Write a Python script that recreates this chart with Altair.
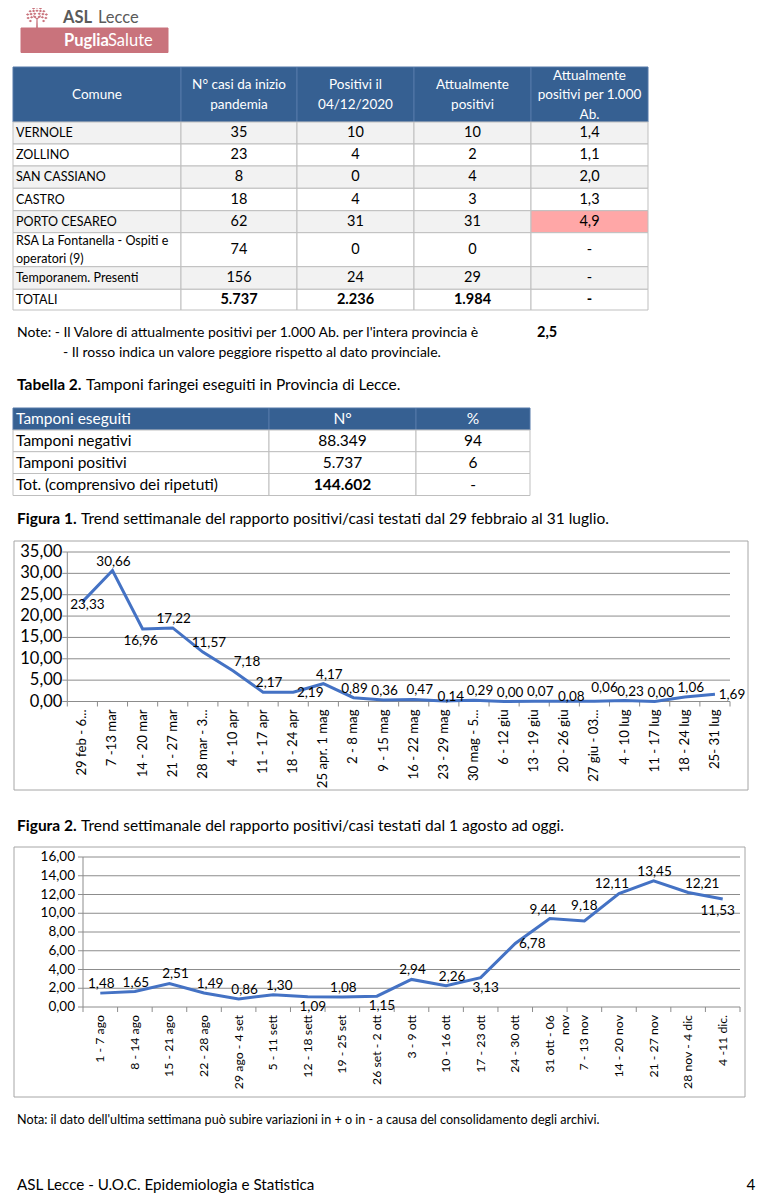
import altair as alt
import pandas as pd

OFF = 8
W, H = 757, 1190
FONT = "Lato"
BLUE_HDR = "#366092"
HDR_LINE = "#5478A8"
CELL_LINE = "#BFBFBF"
ROW_ALT = "#F2F2F2"
RED_CELL = "#FFA7A7"
LINE_BLUE = "#4472C4"
GRID = "#8C8C8C"
FRAME = "#A6A6A6"
PINK = "#C9737C"


def px(v):
    return v - OFF


def it_int(n):
    return f"{n:,}".replace(",", ".")


def it_dec(v, d):
    return f"{v:.{d}f}".replace(".", ",")


# ---------------- data ----------------
header_t1 = ["Comune", "N° casi da inizio\npandemia", "Positivi il\n04/12/2020",
             "Attualmente\npositivi", "Attualmente\npositivi per 1.000\nAb."]
comuni = ["VERNOLE", "ZOLLINO", "SAN CASSIANO", "CASTRO", "PORTO CESAREO",
          "RSA La Fontanella - Ospiti e\noperatori (9)", "Temporanem. Presenti"]
casi_inizio = [35, 23, 8, 18, 62, 74, 156]
positivi_il = [10, 4, 0, 4, 31, 0, 24]
attualmente_pos = [10, 2, 4, 3, 31, 0, 29]
per_1000 = [1.4, 1.1, 2.0, 1.3, 4.9, None, None]
tot_casi = 5737
tot_positivi_il = 2236
tot_attualmente = 1984
valore_provincia = 2.5

header_t2 = ["Tamponi eseguiti", "N°", "%"]
tamponi_cat = ["Tamponi negativi", "Tamponi positivi", "Tot. (comprensivo dei ripetuti)"]
tamponi_n = [88349, 5737, 144602]
tamponi_pct = [94, 6, None]

fig1_weeks = ["29 feb - 6...", "7 -13 mar", "14 - 20 mar", "21 - 27 mar", "28 mar - 3...",
              "4 - 10 apr", "11 - 17 apr", "18 - 24 apr", "25 apr. 1 mag", "2 - 8 mag",
              "9 - 15 mag", "16 - 22 mag", "23 - 29 mag", "30 mag - 5...", "6 - 12 giu",
              "13 - 19 giu", "20 - 26 giu", "27 giu - 03...", "4 - 10 lug", "11 - 17 lug",
              "18 - 24 lug", "25- 31 lug"]
fig1_values = [23.33, 30.66, 16.96, 17.22, 11.57, 7.18, 2.17, 2.19, 4.17, 0.89, 0.36,
               0.47, 0.14, 0.29, 0.00, 0.07, 0.08, 0.06, 0.23, 0.00, 1.06, 1.69]
fig1_yticks = [0, 5, 10, 15, 20, 25, 30, 35]

fig2_weeks = ["1 - 7 ago", "8 - 14 ago", "15 - 21 ago", "22 - 28 ago", "29 ago - 4 set",
              "5 - 11 sett", "12 - 18 sett", "19 - 25 set", "26 set - 2 ott", "3 - 9 ott",
              "10 - 16 ott", "17 - 23 ott", "24 - 30 ott", "31 ott - 06\nnov", "7 - 13 nov",
              "14 - 20 nov", "21 - 27 nov", "28 nov - 4 dic", "4 -11 dic."]
fig2_values = [1.48, 1.65, 2.51, 1.49, 0.86, 1.30, 1.09, 1.08, 1.15, 2.94, 2.26, 3.13,
               6.78, 9.44, 9.18, 12.11, 13.45, 12.21, 11.53]
fig2_yticks = [0, 2, 4, 6, 8, 10, 12, 14, 16]

# label placement (style): where each data label sits relative to its point
fig1_label_pos = ["d", "ac", "bc", "ac", "a", "ar", "a", "r", "a", "ac", "ac", "a",
                  "c", "a", "a", "a", "c", "au", "a", "a", "a", "r"]
fig2_label_pos = ["ac", "ac", "a", "a", "a", "a", "b", "ac", "b", "ac", "a", "b",
                  "r", "al", "at", "al", "ac", "ar", "bl"]
LAB_OFFS = {"a": (6, -9), "ac": (1, -9), "al": (-7, -9), "ar": (14, -9),
            "at": (0, -15), "au": (10, -13), "b": (5, 10), "bc": (-2, 12),
            "bl": (-5, 12), "r": (17, 1), "c": (7, -4), "d": (5, 3)}

# ---------------- page elements ----------------
rects = []
texts = []


def add_rect(x0, x1, y0, y1, fill, stroke):
    rects.append(dict(x0=px(x0), x1=px(x1), y0=px(y0), y1=px(y1), fill=fill, stroke=stroke))


def add_text(x, y, t, align="left", weight="normal", size=12.0, color="#000000", lh=0):
    n_lines = t.count("\n") + 1
    y_first = y - (n_lines - 1) * lh / 2 if lh > 0 else y
    texts.append(dict(x=px(x), y=px(y_first), t=t, align=align, weight=weight, s=size, c=color, lh=lh))


# logo
add_rect(21, 168, 28, 52.5, PINK, PINK)
add_text(63, 18, "ASL", weight="bold", size=16.5, color="#5A5A5A")
add_text(98, 18, "Lecce", size=16.5, color="#5A5A5A")
add_text(64, 40.5, "Puglia", weight="bold", size=16.5, color="#FFFFFF")
add_text(108, 40.5, "Salute", size=16.5, color="#FFFFFF")

# table 1
t1_cols = [13, 181, 297, 414, 531, 648]
t1_rows = [67, 122, 144, 166, 188.3, 210.7, 232.7, 266.7, 289.3, 310]
for c, h in enumerate(header_t1):
    x0, x1 = t1_cols[c], t1_cols[c + 1]
    add_rect(x0, x1, t1_rows[0], t1_rows[1], BLUE_HDR, HDR_LINE)
    add_text((x0 + x1) / 2, (t1_rows[0] + t1_rows[1]) / 2 + 0.5, h, align="center",
             size=13.5, color="#FFFFFF", lh=19.5)
body_t1 = []
for i, com in enumerate(comuni):
    p = per_1000[i]
    body_t1.append([com, it_int(casi_inizio[i]), it_int(positivi_il[i]),
                    it_int(attualmente_pos[i]), it_dec(p, 1) if p is not None else "-"])
body_t1.append(["TOTALI", it_int(tot_casi), it_int(tot_positivi_il), it_int(tot_attualmente), "-"])
for r, row in enumerate(body_t1):
    y0, y1 = t1_rows[r + 1], t1_rows[r + 2]
    base_fill = ROW_ALT if r % 2 == 0 else "#FFFFFF"
    for c, val in enumerate(row):
        x0, x1 = t1_cols[c], t1_cols[c + 1]
        fill = base_fill
        if c == 4 and r < len(per_1000) and per_1000[r] is not None and per_1000[r] > valore_provincia:
            fill = RED_CELL
        add_rect(x0, x1, y0, y1, fill, CELL_LINE)
        if c == 0:
            add_text(x0 + 3, (y0 + y1) / 2, val, size=12.5, lh=18)
        else:
            add_text((x0 + x1) / 2, (y0 + y1) / 2, val, align="center",
                     weight="bold" if r == len(body_t1) - 1 else "normal", size=14.5)

# notes
add_text(17, 333, "Note: - Il Valore di attualmente positivi per 1.000 Ab. per l'intera provincia è", size=14)
add_text(537, 333, it_dec(valore_provincia, 1), weight="bold", size=14.5)
add_text(63, 353, "- Il rosso indica un valore peggiore rispetto al dato provinciale.", size=14)

# table 2
add_text(17, 385, "Tabella 2.", weight="bold", size=15.5)
add_text(86, 385, "Tamponi faringei eseguiti in Provincia di Lecce.", size=15.5)
t2_cols = [13, 269, 416, 530]
t2_rows = [408, 430, 451.7, 473.5, 495.5]
for c, h in enumerate(header_t2):
    x0, x1 = t2_cols[c], t2_cols[c + 1]
    add_rect(x0, x1, t2_rows[0], t2_rows[1], BLUE_HDR, HDR_LINE)
    if c == 0:
        add_text(x0 + 3, (t2_rows[0] + t2_rows[1]) / 2, h, size=15.5, color="#FFFFFF")
    else:
        add_text((x0 + x1) / 2, (t2_rows[0] + t2_rows[1]) / 2, h, align="center", size=15.5, color="#FFFFFF")
for r, cat in enumerate(tamponi_cat):
    y0, y1 = t2_rows[r + 1], t2_rows[r + 2]
    row = [cat, it_int(tamponi_n[r]), str(tamponi_pct[r]) if tamponi_pct[r] is not None else "-"]
    for c, val in enumerate(row):
        x0, x1 = t2_cols[c], t2_cols[c + 1]
        add_rect(x0, x1, y0, y1, "#FFFFFF", CELL_LINE)
        if c == 0:
            add_text(x0 + 3, (y0 + y1) / 2, val, size=15.5)
        else:
            add_text((x0 + x1) / 2, (y0 + y1) / 2, val, align="center",
                     weight="bold" if (r == len(tamponi_cat) - 1 and c == 1) else "normal", size=15.5)

# figure captions, frames, notes, footer
add_text(17, 519, "Figura 1.", weight="bold", size=15.5)
add_text(81, 519, "Trend settimanale del rapporto positivi/casi testati dal 29 febbraio al 31 luglio.", size=15.5)
add_rect(14, 748, 541, 790, "#FFFFFF", FRAME)
add_text(17, 826, "Figura 2.", weight="bold", size=15.5)
add_text(81, 826, "Trend settimanale del rapporto positivi/casi testati dal 1 agosto ad oggi.", size=15.5)
add_rect(14, 745, 847, 1097, "#FFFFFF", FRAME)
add_text(17, 1120, "Nota: il dato dell'ultima settimana può subire variazioni in + o in - a causa del consolidamento degli archivi.", size=12.6)
add_text(17, 1185, "ASL Lecce - U.O.C. Epidemiologia e Statistica", size=15.2)
add_text(751, 1185, "4", align="center", size=15.2)

rect_df = pd.DataFrame(rects)
text_df = pd.DataFrame(texts)

page_layers = [
    alt.Chart(rect_df).mark_rect(strokeWidth=1).encode(
        x=alt.X("x0:Q", scale=None), x2="x1:Q",
        y=alt.Y("y0:Q", scale=None), y2="y1:Q",
        fill=alt.Fill("fill:N", scale=None),
        stroke=alt.Stroke("stroke:N", scale=None),
    )
]

# logo tree (decorative symbol)
leaves = [(-0.3, -0.85), (0.0, -0.92), (0.3, -0.85), (-0.6, -0.6), (-0.3, -0.62), (0.0, -0.64),
          (0.3, -0.62), (0.6, -0.6), (-0.82, -0.3), (-0.52, -0.34), (-0.2, -0.38), (0.2, -0.38),
          (0.52, -0.34), (0.82, -0.3), (-0.78, 0.0), (-0.47, -0.06), (0.47, -0.06), (0.78, 0.0),
          (-0.58, 0.26), (0.58, 0.26), (-0.2, -0.1), (0.2, -0.1)]
tree_path = "M-0.08,1L-0.05,0.12L-0.36,-0.18L-0.30,-0.25L0,0.02L0.30,-0.25L0.36,-0.18L0.05,0.12L0.08,1Z"
for lx, ly in leaves:
    tree_path += f"M{lx - 0.15:.2f},{ly:.2f}L{lx:.2f},{ly - 0.11:.2f}L{lx + 0.15:.2f},{ly:.2f}L{lx:.2f},{ly + 0.11:.2f}Z"
page_layers.append(
    alt.Chart(pd.DataFrame({"k": [0]})).mark_point(shape=tree_path, filled=True, color=PINK,
                                                   opacity=1, size=520, strokeWidth=0).encode(
        x=alt.value(px(37)), y=alt.value(px(18)))
)

for (al, wt, lh), g in text_df.groupby(["align", "weight", "lh"]):
    kw = dict(align=al, baseline="middle", fontWeight=wt, font=FONT, lineBreak="\n")
    if lh > 0:
        kw["lineHeight"] = lh
    page_layers.append(
        alt.Chart(g.reset_index(drop=True)).mark_text(**kw).encode(
            x=alt.X("x:Q", scale=None), y=alt.Y("y:Q", scale=None), text="t:N",
            color=alt.Color("c:N", scale=None), size=alt.Size("s:Q", scale=None))
    )


def figure(weeks, values, codes, yticks, ax_x, right_x, base_y, top_y,
           lab_size, ylab_size, ylab_gap, xlab_size):
    n = len(weeks)
    ymax = yticks[-1]
    xs = alt.Scale(domain=[-0.5, n - 0.5], range=[px(ax_x), px(right_x)], nice=False, zero=False)
    ys = alt.Scale(domain=[0, ymax], range=[px(base_y), px(top_y)], nice=False, zero=False)
    pts = pd.DataFrame({"i": list(range(n)), "week": weeks, "v": values,
                        "lab": [it_dec(v, 2) for v in values], "pos": codes})
    tk = pd.DataFrame({"t": yticks, "lab": [it_dec(t, 2) for t in yticks]})
    bnd = pd.DataFrame({"b": [k - 0.5 for k in range(n + 1)]})
    one = pd.DataFrame({"k": [0]})

    def X(f):
        return alt.X(f, scale=xs, axis=None)

    def Y(f):
        return alt.Y(f, scale=ys, axis=None)

    layers = [
        alt.Chart(tk).mark_rule(color=GRID, strokeWidth=1).encode(
            y=Y("t:Q"), x=alt.XDatum(-0.5, scale=xs, axis=None), x2=alt.X2Datum(n - 0.5)),
        alt.Chart(one).mark_rule(color=GRID, strokeWidth=1).encode(
            x=alt.XDatum(-0.5, scale=xs, axis=None),
            y=alt.YDatum(0, scale=ys, axis=None), y2=alt.Y2Datum(ymax)),
        alt.Chart(tk).mark_rule(color=GRID, strokeWidth=1).encode(
            y=Y("t:Q"), x=alt.value(px(ax_x) - 5), x2=alt.value(px(ax_x))),
        alt.Chart(bnd).mark_rule(color=GRID, strokeWidth=1).encode(
            x=X("b:Q"), y=alt.value(px(base_y)), y2=alt.value(px(base_y) + 5)),
        alt.Chart(tk).mark_text(align="right", baseline="middle", font=FONT, fontSize=ylab_size).encode(
            y=Y("t:Q"), x=alt.value(px(ax_x) - ylab_gap), text="lab:N"),
        alt.Chart(pts).mark_text(align="right", baseline="middle", angle=270, font=FONT,
                                 fontSize=xlab_size, lineBreak="\n", lineHeight=15).encode(
            x=X("i:Q"), y=alt.value(px(base_y) + 8), text="week:N"),
        alt.Chart(pts).mark_line(color=LINE_BLUE, strokeWidth=3).encode(x=X("i:Q"), y=Y("v:Q")),
    ]
    for code in sorted(set(codes)):
        dx, dy = LAB_OFFS[code]
        layers.append(
            alt.Chart(pts).transform_filter(alt.datum.pos == code).mark_text(
                align="center", baseline="middle", font=FONT, fontSize=lab_size, dx=dx, dy=dy).encode(
                x=X("i:Q"), y=Y("v:Q"), text="lab:N"))
    return alt.layer(*layers)


fig1 = figure(fig1_weeks, fig1_values, fig1_label_pos, fig1_yticks,
              67.3, 730, 701.5, 552, 13.5, 16.5, 5, 13.2)
fig2 = figure(fig2_weeks, fig2_values, fig2_label_pos, fig2_yticks,
              83, 740, 1007, 857, 13.5, 13.5, 8, 12.3)

chart = alt.layer(alt.layer(*page_layers), fig1, fig2).resolve_scale(
    x="independent", y="independent"
).properties(
    width=W, height=H, padding=0,
    autosize=alt.AutoSizeParams(type="none"), background="white"
).configure_view(stroke=None)

chart.save("out.html", embed_options={"renderer": "svg", "actions": False})
